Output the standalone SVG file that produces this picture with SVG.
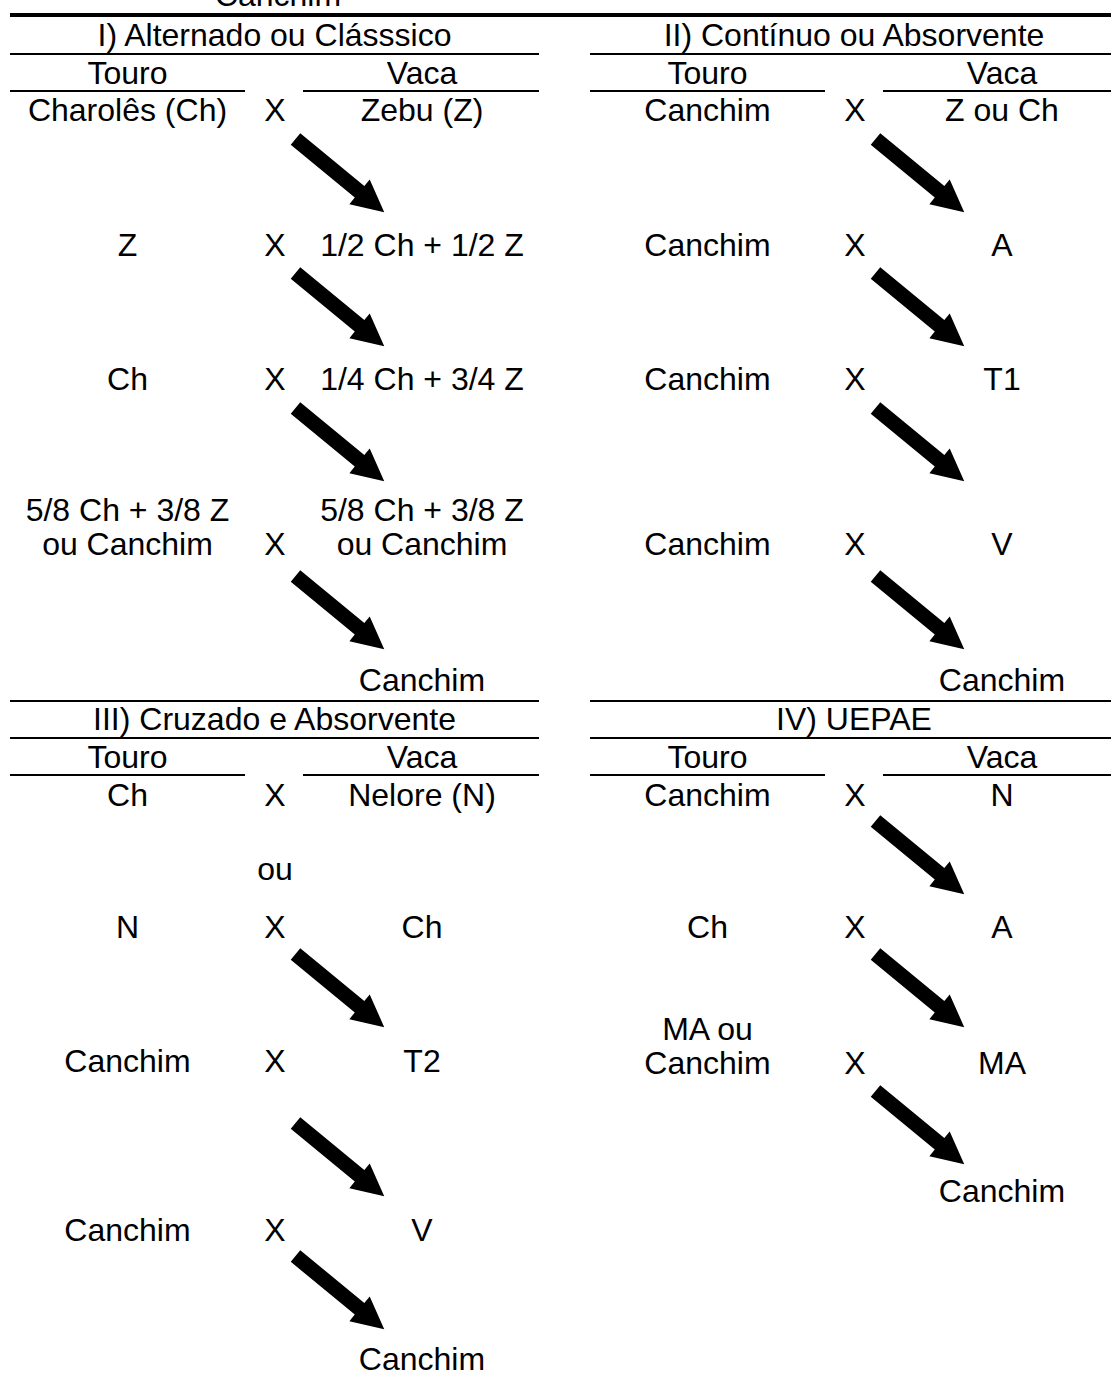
<svg xmlns="http://www.w3.org/2000/svg" width="1111" height="1376" viewBox="0 0 1111 1376">
  <style>
    text { font-family: "Liberation Sans", Arial, sans-serif; font-size: 32px; fill: #000; text-anchor: middle; }
    .rule { stroke: #000; stroke-width: 2; fill: none; }
    .rule-heavy { stroke: #000; stroke-width: 4; fill: none; }
  </style>
  <defs>
    <!-- block arrow pointing along +x, tail at origin -->
    <path id="arrow" d="M0,-7.5 L83,-7.5 L83,-16 L115,0 L83,16 L83,7.5 L0,7.5 Z" fill="#000"/>
  </defs>
  <rect width="1111" height="1376" fill="#fff"/>

  <!-- table rules -->
  <g id="rules">
    <line class="rule-heavy" x1="10" y1="15" x2="1111" y2="15"/>
    <line class="rule" x1="10" y1="54" x2="539" y2="54"/>
    <line class="rule" x1="590" y1="54" x2="1111" y2="54"/>
    <line class="rule" x1="10" y1="91" x2="245" y2="91"/>
    <line class="rule" x1="303" y1="91" x2="539" y2="91"/>
    <line class="rule" x1="590" y1="91" x2="825" y2="91"/>
    <line class="rule" x1="883" y1="91" x2="1111" y2="91"/>
    <line class="rule" x1="10" y1="701" x2="539" y2="701"/>
    <line class="rule" x1="590" y1="701" x2="1111" y2="701"/>
    <line class="rule" x1="10" y1="738" x2="539" y2="738"/>
    <line class="rule" x1="590" y1="738" x2="1111" y2="738"/>
    <line class="rule" x1="10" y1="775" x2="245" y2="775"/>
    <line class="rule" x1="303" y1="775" x2="539" y2="775"/>
    <line class="rule" x1="590" y1="775" x2="825" y2="775"/>
    <line class="rule" x1="883" y1="775" x2="1111" y2="775"/>
  </g>

  <!-- carried-over label from the previous block -->
  <g id="prev-canchim"><text x="278" y="6">Canchim</text></g>

  <!-- I) Alternado ou Clásssico -->
  <g id="sec1">
    <g id="s1-title"><text x="274.5" y="46">I) Alternado ou Clásssico</text></g>
    <g id="s1-touro"><text x="127.5" y="84">Touro</text></g>
    <g id="s1-vaca"><text x="422" y="84">Vaca</text></g>
    <g id="s1-r1-t"><text x="127.5" y="121">Charolês (Ch)</text></g>
    <g id="s1-r1-x"><text x="275" y="121">X</text></g>
    <g id="s1-r1-v"><text x="422" y="121">Zebu (Z)</text></g>
    <g id="s1-r2-t"><text x="127.5" y="256">Z</text></g>
    <g id="s1-r2-x"><text x="275" y="256">X</text></g>
    <g id="s1-r2-v"><text x="422" y="256">1/2 Ch + 1/2 Z</text></g>
    <g id="s1-r3-t"><text x="127.5" y="390">Ch</text></g>
    <g id="s1-r3-x"><text x="275" y="390">X</text></g>
    <g id="s1-r3-v"><text x="422" y="390">1/4 Ch + 3/4 Z</text></g>
    <g id="s1-r4-t"><text x="127.5" y="521">5/8 Ch + 3/8 Z</text><text x="127.5" y="555">ou Canchim</text></g>
    <g id="s1-r4-x"><text x="275" y="555">X</text></g>
    <g id="s1-r4-v"><text x="422" y="521">5/8 Ch + 3/8 Z</text><text x="422" y="555">ou Canchim</text></g>
    <g id="s1-result"><text x="422" y="691">Canchim</text></g>
  </g>

  <!-- II) Contínuo ou Absorvente -->
  <g id="sec2">
    <g id="s2-title"><text x="854" y="46">II) Contínuo ou Absorvente</text></g>
    <g id="s2-touro"><text x="707.5" y="84">Touro</text></g>
    <g id="s2-vaca"><text x="1002" y="84">Vaca</text></g>
    <g id="s2-r1-t"><text x="707.5" y="121">Canchim</text></g>
    <g id="s2-r1-x"><text x="855" y="121">X</text></g>
    <g id="s2-r1-v"><text x="1002" y="121">Z ou Ch</text></g>
    <g id="s2-r2-t"><text x="707.5" y="256">Canchim</text></g>
    <g id="s2-r2-x"><text x="855" y="256">X</text></g>
    <g id="s2-r2-v"><text x="1002" y="256">A</text></g>
    <g id="s2-r3-t"><text x="707.5" y="390">Canchim</text></g>
    <g id="s2-r3-x"><text x="855" y="390">X</text></g>
    <g id="s2-r3-v"><text x="1002" y="390">T1</text></g>
    <g id="s2-r4-t"><text x="707.5" y="555">Canchim</text></g>
    <g id="s2-r4-x"><text x="855" y="555">X</text></g>
    <g id="s2-r4-v"><text x="1002" y="555">V</text></g>
    <g id="s2-result"><text x="1002" y="691">Canchim</text></g>
  </g>

  <!-- III) Cruzado e Absorvente -->
  <g id="sec3">
    <g id="s3-title"><text x="274.5" y="730">III) Cruzado e Absorvente</text></g>
    <g id="s3-touro"><text x="127.5" y="768">Touro</text></g>
    <g id="s3-vaca"><text x="422" y="768">Vaca</text></g>
    <g id="s3-r1-t"><text x="127.5" y="806">Ch</text></g>
    <g id="s3-r1-x"><text x="275" y="806">X</text></g>
    <g id="s3-r1-v"><text x="422" y="806">Nelore (N)</text></g>
    <g id="s3-ou"><text x="275" y="880">ou</text></g>
    <g id="s3-r2-t"><text x="127.5" y="938">N</text></g>
    <g id="s3-r2-x"><text x="275" y="938">X</text></g>
    <g id="s3-r2-v"><text x="422" y="938">Ch</text></g>
    <g id="s3-r3-t"><text x="127.5" y="1072">Canchim</text></g>
    <g id="s3-r3-x"><text x="275" y="1072">X</text></g>
    <g id="s3-r3-v"><text x="422" y="1072">T2</text></g>
    <g id="s3-r4-t"><text x="127.5" y="1241">Canchim</text></g>
    <g id="s3-r4-x"><text x="275" y="1241">X</text></g>
    <g id="s3-r4-v"><text x="422" y="1241">V</text></g>
    <g id="s3-result"><text x="422" y="1370">Canchim</text></g>
  </g>

  <!-- IV) UEPAE -->
  <g id="sec4">
    <g id="s4-title"><text x="854" y="730">IV) UEPAE</text></g>
    <g id="s4-touro"><text x="707.5" y="768">Touro</text></g>
    <g id="s4-vaca"><text x="1002" y="768">Vaca</text></g>
    <g id="s4-r1-t"><text x="707.5" y="806">Canchim</text></g>
    <g id="s4-r1-x"><text x="855" y="806">X</text></g>
    <g id="s4-r1-v"><text x="1002" y="806">N</text></g>
    <g id="s4-r2-t"><text x="707.5" y="938">Ch</text></g>
    <g id="s4-r2-x"><text x="855" y="938">X</text></g>
    <g id="s4-r2-v"><text x="1002" y="938">A</text></g>
    <g id="s4-r3-t"><text x="707.5" y="1040">MA ou</text><text x="707.5" y="1074">Canchim</text></g>
    <g id="s4-r3-x"><text x="855" y="1074">X</text></g>
    <g id="s4-r3-v"><text x="1002" y="1074">MA</text></g>
    <g id="s4-result"><text x="1002" y="1202">Canchim</text></g>
  </g>

  <!-- descent arrows -->
  <g id="connectors">
    <use href="#arrow" transform="translate(295.5,139) rotate(39.5)"/>
    <use href="#arrow" transform="translate(295.5,273) rotate(39.5)"/>
    <use href="#arrow" transform="translate(295.5,408) rotate(39.5)"/>
    <use href="#arrow" transform="translate(295.5,576) rotate(39.5)"/>
    <use href="#arrow" transform="translate(875.5,139) rotate(39.5)"/>
    <use href="#arrow" transform="translate(875.5,273) rotate(39.5)"/>
    <use href="#arrow" transform="translate(875.5,408) rotate(39.5)"/>
    <use href="#arrow" transform="translate(875.5,576) rotate(39.5)"/>
    <use href="#arrow" transform="translate(295.5,954) rotate(39.5)"/>
    <use href="#arrow" transform="translate(295.5,1123) rotate(39.5)"/>
    <use href="#arrow" transform="translate(295.5,1256) rotate(39.5)"/>
    <use href="#arrow" transform="translate(875.5,821) rotate(39.5)"/>
    <use href="#arrow" transform="translate(875.5,954) rotate(39.5)"/>
    <use href="#arrow" transform="translate(875.5,1091) rotate(39.5)"/>
  </g>
</svg>
